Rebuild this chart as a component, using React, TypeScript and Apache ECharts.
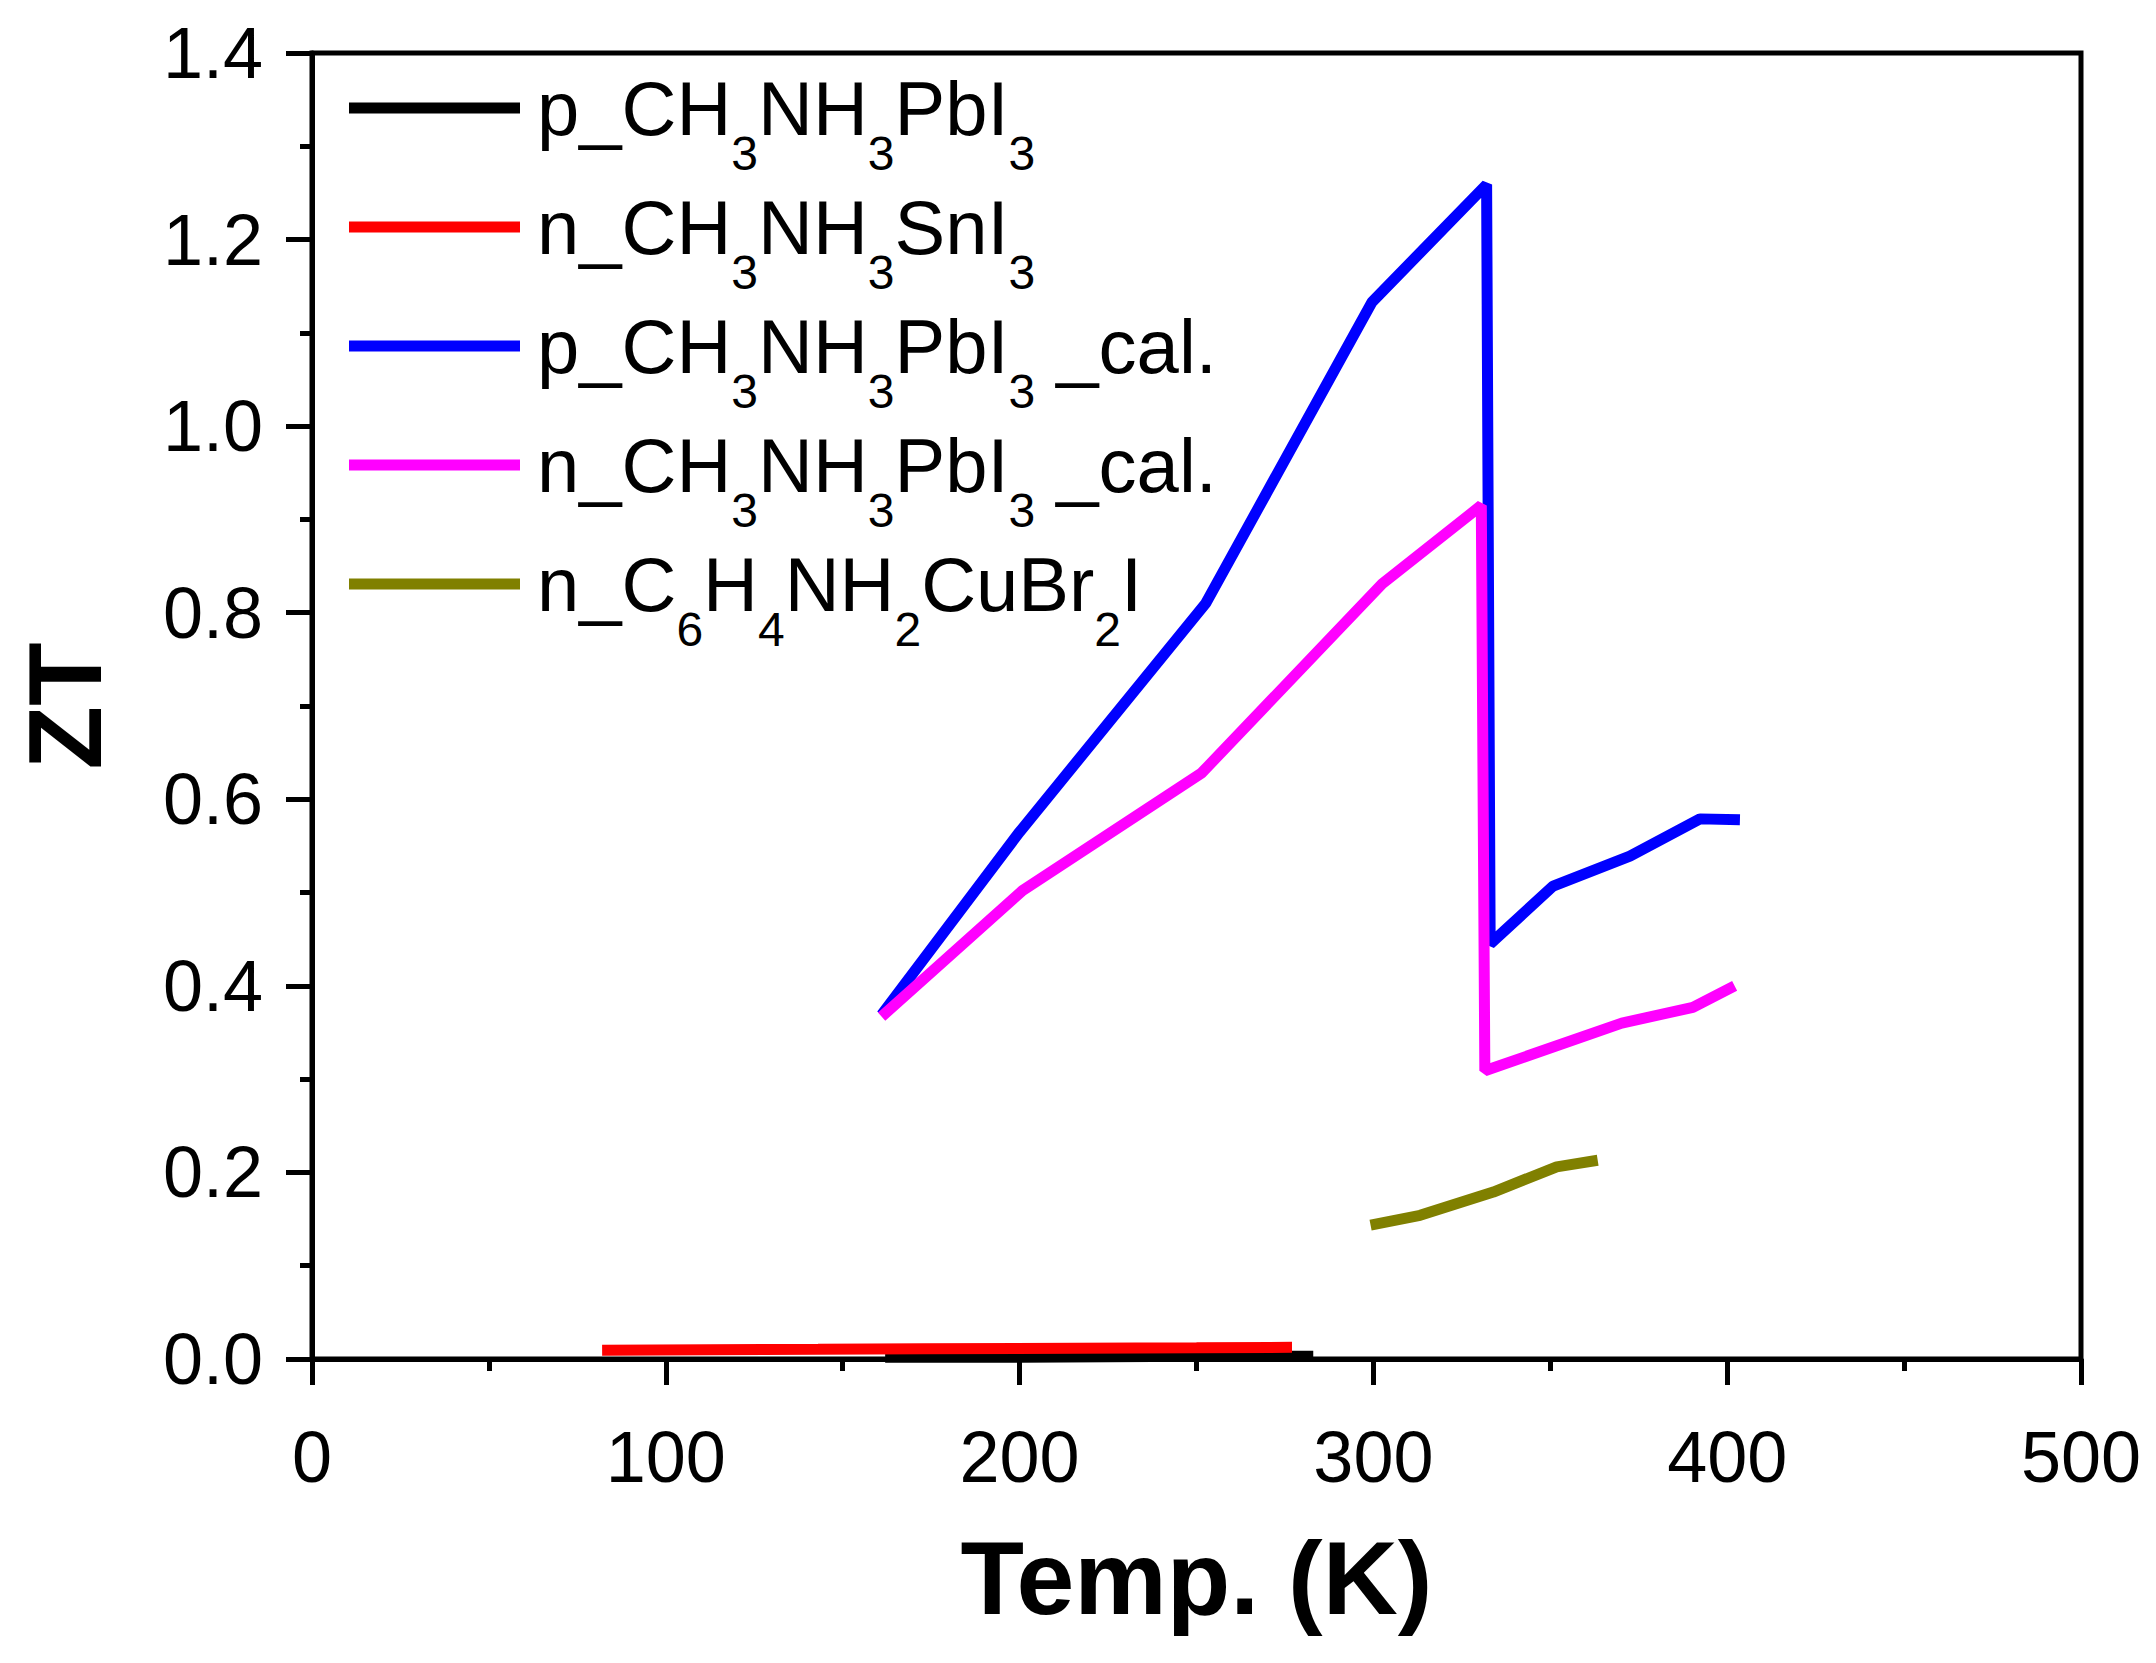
import React, { useEffect, useRef } from "react";
import * as echarts from "echarts";

// ---- data ----
const seriesNames = [
  "p_CH3NH3PbI3",
  "n_CH3NH3SnI3",
  "p_CH3NH3PbI3 _cal.",
  "n_CH3NH3PbI3 _cal.",
  "n_C6H4NH2CuBr2I",
];
const legendRich = [
  "p_CH{s|3}NH{s|3}PbI{s|3}",
  "n_CH{s|3}NH{s|3}SnI{s|3}",
  "p_CH{s|3}NH{s|3}PbI{s|3} _cal.",
  "n_CH{s|3}NH{s|3}PbI{s|3} _cal.",
  "n_C{s|6}H{s|4}NH{s|2}CuBr{s|2}I",
];
const seriesColors = ["#000000", "#FF0000", "#0000FF", "#FF00FF", "#808000"];

const tempPPbI3 = [162, 200, 250, 283];
const ztPPbI3 = [0.002, 0.002, 0.003, 0.003];

const tempNSnI3 = [82, 143, 173, 250, 277];
const ztNSnI3 = [0.0095, 0.0105, 0.011, 0.012, 0.0125];

const tempPCal = [161, 200, 252.6, 299.6, 332, 333, 350.8, 372.5, 392.3, 403.6];
const ztPCal = [0.369, 0.565, 0.81, 1.133, 1.259, 0.445, 0.507, 0.539, 0.579, 0.578];

const tempNCal = [161, 200.8, 251.4, 302.5, 330.5, 331.5, 370.2, 390.3, 402.1];
const ztNCal = [0.367, 0.502, 0.628, 0.831, 0.915, 0.309, 0.36, 0.377, 0.4];

const tempCu = [299.2, 313.2, 333.9, 351.8, 363.4];
const ztCu = [0.1436, 0.154, 0.179, 0.206, 0.213];

const xTicks = { min: 0, max: 500, interval: 100 };
const yTicks = { min: 0, max: 1.4, interval: 0.2 };

const allTemps = [tempPPbI3, tempNSnI3, tempPCal, tempNCal, tempCu];
const allZT = [ztPPbI3, ztNSnI3, ztPCal, ztNCal, ztCu];

const FONT = "'Liberation Sans', Arial, Helvetica, sans-serif";
const LEGEND_LINE_H = 139;

export default function App() {
  const ref = useRef<HTMLDivElement>(null);
  useEffect(() => {
    document.body.style.margin = "0";
    const chart = echarts.init(ref.current!, null, { renderer: "svg" });
    const series = seriesNames.map((name, i) => ({
      name,
      type: "line",
      symbol: "none",
      showSymbol: false,
      data: allTemps[i].map((t, j) => [t, allZT[i][j]]),
      lineStyle: { color: seriesColors[i], width: 11 },
      itemStyle: { color: seriesColors[i] },
      z: 2 + i,
    }));
    chart.setOption({
      animation: false,
      textStyle: { fontFamily: FONT },
      grid: {
        left: 312,
        top: 53,
        width: 1769,
        height: 1306,
        show: true,
        borderColor: "#000",
        borderWidth: 5,
        backgroundColor: "transparent",
      },
      legend: {
        left: 349,
        top: 108 - LEGEND_LINE_H / 2,
        orient: "vertical",
        padding: 0,
        icon: "rect",
        itemWidth: 171,
        itemHeight: 11,
        itemGap: 119 - LEGEND_LINE_H,
        data: seriesNames,
        formatter: (name: string) => legendRich[seriesNames.indexOf(name)],
        textStyle: {
          fontFamily: FONT,
          fontSize: 76,
          lineHeight: LEGEND_LINE_H,
          color: "#000",
          padding: [0, 0, 0, 12],
          rich: {
            s: {
              fontFamily: FONT,
              fontSize: 48,
              lineHeight: 10,
              verticalAlign: "bottom",
              color: "#000",
            },
          },
        },
      },
      xAxis: {
        type: "value",
        min: xTicks.min,
        max: xTicks.max,
        interval: xTicks.interval,
        name: "Temp. (K)",
        nameLocation: "middle",
        nameGap: 167,
        nameTextStyle: { fontFamily: FONT, fontSize: 104, fontWeight: "bold", color: "#000" },
        axisLine: { show: true, onZero: false, lineStyle: { color: "#000", width: 5 } },
        axisTick: { show: true, inside: false, length: 26, lineStyle: { color: "#000", width: 5 } },
        minorTick: { show: true, splitNumber: 2, length: 12, lineStyle: { color: "#000", width: 5 } },
        axisLabel: { fontFamily: FONT, fontSize: 72, color: "#000", margin: 62 },
        splitLine: { show: false },
        minorSplitLine: { show: false },
      },
      yAxis: {
        type: "value",
        min: yTicks.min,
        max: yTicks.max,
        interval: yTicks.interval,
        name: "ZT",
        nameLocation: "middle",
        nameRotate: 90,
        nameGap: 195,
        nameTextStyle: { fontFamily: FONT, fontSize: 104, fontWeight: "bold", color: "#000" },
        axisLine: { show: true, onZero: false, lineStyle: { color: "#000", width: 5 } },
        axisTick: { show: true, inside: false, length: 26, lineStyle: { color: "#000", width: 5 } },
        minorTick: { show: true, splitNumber: 2, length: 12, lineStyle: { color: "#000", width: 5 } },
        axisLabel: {
          fontFamily: FONT,
          fontSize: 72,
          color: "#000",
          margin: 49,
          formatter: (v: number) => v.toFixed(1),
        },
        splitLine: { show: false },
        minorSplitLine: { show: false },
      },
      series,
    });
    return () => chart.dispose();
  }, []);
  return <div ref={ref} style={{ width: 2156, height: 1663 }} />;
}
